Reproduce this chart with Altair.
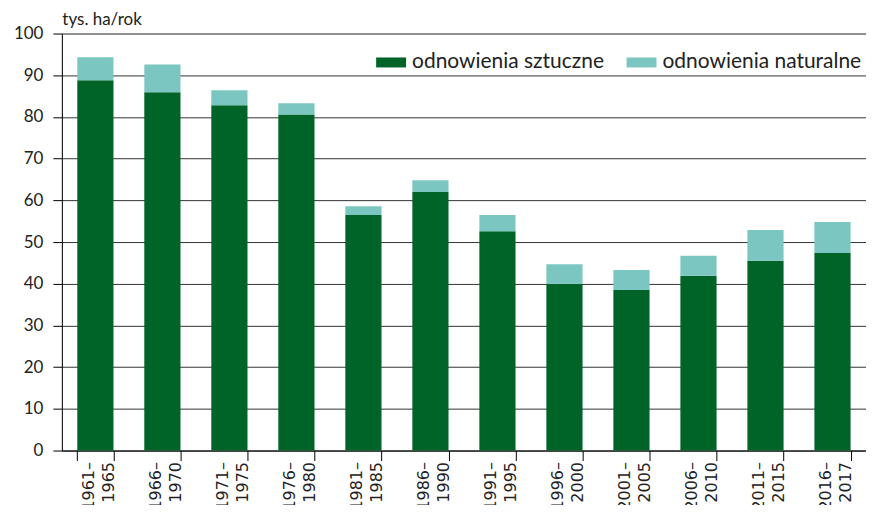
import altair as alt
import pandas as pd

periods = ["1961–|1965", "1966–|1970", "1971–|1975", "1976–|1980", "1981–|1985", "1986–|1990",
           "1991–|1995", "1996–|2000", "2001–|2005", "2006–|2010", "2011–|2015", "2016–|2017"]
sztuczne = [88.8, 85.9, 82.8, 80.6, 56.5, 62.0, 52.6, 40.0, 38.5, 41.9, 45.5, 47.4]
naturalne = [5.5, 6.7, 3.6, 2.7, 2.1, 2.8, 3.9, 4.7, 4.8, 4.8, 7.4, 7.4]
series = ["odnowienia sztuczne", "odnowienia naturalne"]
colors = ["#006428", "#7BC6C0"]

rows = []
for p, a, n in zip(periods, sztuczne, naturalne):
    rows.append({"okres": p, "seria": series[0], "wartosc": a, "ord": 0})
    rows.append({"okres": p, "seria": series[1], "wartosc": n, "ord": 1})
df = pd.DataFrame(rows)

FONT = "Lato"

chart = alt.Chart(df).mark_bar().encode(
    x=alt.X("okres:N", sort=periods,
            scale=alt.Scale(paddingInner=0.46, paddingOuter=0.23),
            axis=alt.Axis(title=None, labelAngle=-90, labelAlign="right", labelBaseline="middle",
                          labelExpr="split(datum.label, '|')", labelFontSize=16, labelPadding=1,
                          labelOffset=-7,
                          tickBand="extent", tickSize=10, tickColor="#000", domainColor="#000",
                          labelColor="#222", labelFont="DejaVu Sans", grid=False, labelLineHeight=20)),
    y=alt.Y("wartosc:Q", stack="zero",
            scale=alt.Scale(domain=[0, 100], nice=False),
            axis=alt.Axis(values=list(range(0, 101, 10)), title="tys. ha/rok", titleAngle=0,
                          titleAlign="left", titleBaseline="alphabetic", titleX=0, titleY=-9,
                          titleFontSize=17, titleFontWeight="normal", titleFont=FONT, titleColor="#222",
                          labelFontSize=17, labelFont=FONT, labelColor="#222", labelPadding=10,
                          tickSize=9, tickColor="#000", domainColor="#000",
                          grid=True, gridColor="#333", gridWidth=1)),
    color=alt.Color("seria:N", scale=alt.Scale(domain=series, range=colors),
                    legend=alt.Legend(title=None, orient="none", direction="horizontal",
                                      legendX=315, legendY=14, labelFontSize=21, labelFont=FONT,
                                      labelColor="#222", symbolType="M-1,-0.333H1V0.333H-1Z",
                                      symbolSize=900, symbolStrokeWidth=0, labelOffset=6,
                                      labelLimit=400, columnPadding=22, padding=0)),
    order=alt.Order("ord:Q"),
).properties(
    width=806, height=418,
    autosize=alt.AutoSizeParams(type="none"),
    padding={"left": 54, "top": 25, "right": 0, "bottom": 54},
).configure_view(stroke=None).configure(font=FONT)

chart.save("out.html", embed_options={"renderer": "svg", "actions": False})
